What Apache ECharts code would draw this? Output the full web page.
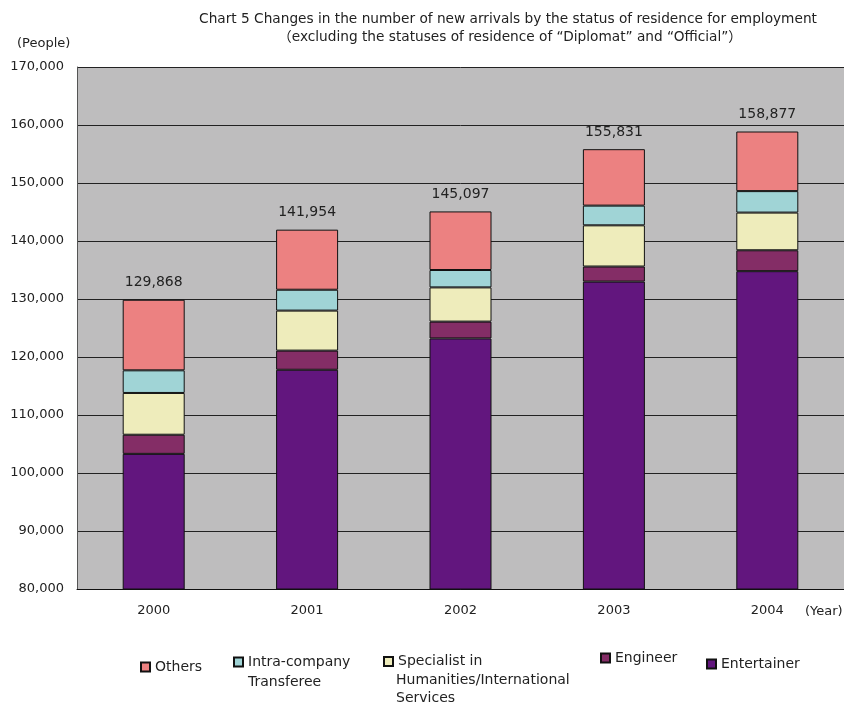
<!DOCTYPE html>
<html><head><meta charset="utf-8">
<script src="https://cdn.jsdelivr.net/npm/echarts@6/dist/echarts.min.js"></script>
<style>html,body{margin:0;padding:0;background:#fff}#c{width:844px;height:703px}</style>
</head><body><div id="c"></div>
<script>
const years = ['2000','2001','2002','2003','2004'];
const entertainer = [103300, 117800, 123200, 133000, 134800];
const engineer = [3300, 3300, 2900, 2600, 3600];
const specialist = [7200, 6900, 5900, 7100, 6500];
const intraCompany = [3900, 3600, 3000, 3400, 3700];
const others = [12168, 10354, 10097, 9731, 10277];
const totals = [129868, 141954, 145097, 155831, 158877];
const yTicks = [80000, 170000, 10000];

const FONT = '"DejaVu Sans", "Noto Sans CJK JP", sans-serif';
const chart = echarts.init(document.getElementById('c'));
const fmt = v => v.toLocaleString('en-US');

function ser(name, data, color, extra) {
  return Object.assign({
    name, type: 'bar', stack: 'a', data, barWidth: 62,
    itemStyle: {color, borderColor: '#111', borderWidth: 1},
    emphasis: {disabled: true}
  }, extra || {});
}
function leg(name, left, top, txt) {
  return {
    data: [name], left, top, padding: 0, icon: 'rect', itemWidth: 9, itemHeight: 9,
    selectedMode: false,
    formatter: () => txt,
    textStyle: {fontFamily: FONT, fontSize: 14, color: '#222', lineHeight: 19}
  };
}
function extraLine(text, x, y) {
  return {type: 'text', left: x, top: y - 9.5, silent: true,
    style: {text, fontFamily: FONT, fontSize: 14, fill: '#222', lineHeight: 19}};
}

chart.setOption({
  animation: false,
  backgroundColor: '#fff',
  title: [
    {text: 'Chart 5 Changes in the number of new arrivals by the status of residence for employment',
     left: 503, top: 8, textAlign: 'center',
     textStyle: {fontFamily: FONT, fontSize: 13.7, fontWeight: 'normal', color: '#222'}},
    {text: '（excluding the statuses of residence of “Diplomat” and “Official”）',
     left: 505, top: 26, textAlign: 'center',
     textStyle: {fontFamily: FONT, fontSize: 13.7, fontWeight: 'normal', color: '#222'}},
    {text: '(People)', left: 12, top: 32,
     textStyle: {fontFamily: FONT, fontSize: 13, fontWeight: 'normal', color: '#222'}},
    {text: '(Year)', left: 800, top: 600,
     textStyle: {fontFamily: FONT, fontSize: 13, fontWeight: 'normal', color: '#222'}}
  ],
  grid: {left: 77, top: 67, width: 773, height: 522, backgroundColor: '#bebdbe', show: true, borderWidth: 0},
  xAxis: {
    type: 'category', data: years,
    axisLine: {lineStyle: {color: '#111', width: 1}},
    axisTick: {inside: true, length: 4, lineStyle: {color: '#111'}},
    axisLabel: {fontFamily: FONT, fontSize: 13, color: '#222', margin: 15}
  },
  yAxis: {
    type: 'value', min: yTicks[0], max: yTicks[1], interval: yTicks[2],
    axisLine: {show: true, lineStyle: {color: '#555'}},
    axisTick: {show: false},
    axisLabel: {fontFamily: FONT, fontSize: 13, color: '#222', margin: 13, formatter: v => fmt(v)},
    splitLine: {lineStyle: {color: '#222', width: 1}}
  },
  legend: [
    leg('Others', 140, 657.5, 'Others'),
    leg('Intra-company Transferee', 233, 652.5, 'Intra-company'),
    leg('Specialist in Humanities/International Services', 383, 652, 'Specialist in'),
    leg('Engineer', 600, 648.5, 'Engineer'),
    leg('Entertainer', 706, 654.5, 'Entertainer')
  ],
  graphic: [
    extraLine('Transferee', 248, 682),
    extraLine('Humanities/International', 396, 680),
    extraLine('Services', 396, 698)
  ],
  series: [
    ser('Entertainer', entertainer, '#62167e'),
    ser('Engineer', engineer, '#842d66'),
    ser('Specialist in Humanities/International Services', specialist, '#eeecbb'),
    ser('Intra-company Transferee', intraCompany, '#a0d4d6'),
    ser('Others', others, '#ec8181', {
      label: {show: true, position: 'top', distance: 10, fontFamily: FONT, fontSize: 14, color: '#222',
        formatter: p => fmt(totals[p.dataIndex])}
    })
  ]
});
</script></body></html>
